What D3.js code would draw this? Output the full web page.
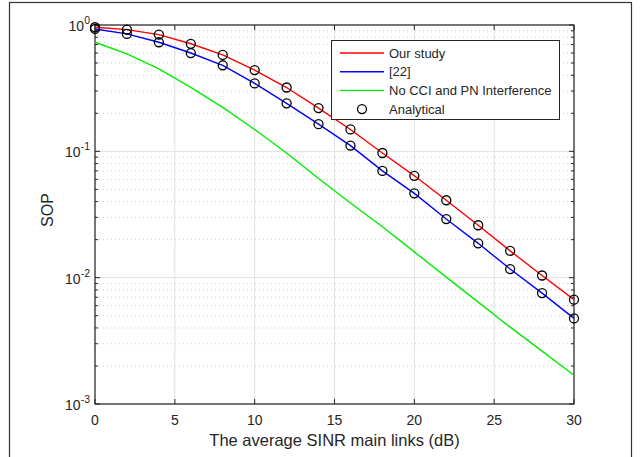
<!DOCTYPE html>
<html>
<head>
<meta charset="utf-8">
<script src="https://cdn.jsdelivr.net/npm/d3@7"></script>
<style>
  body { margin: 0; background: #fff; }
  text { font-family: "Liberation Sans", Arial, sans-serif; fill: #262626; }
</style>
</head>
<body>
<svg id="chart" width="642" height="457"></svg>
<script>
// donnees
let snr = [0, 2, 4, 6, 8, 10, 12, 14, 16, 18, 20, 22, 24, 26, 28, 30];
let sopOurStudy = [0.96, 0.92, 0.84, 0.71, 0.58, 0.44, 0.32, 0.22, 0.149, 0.097, 0.064, 0.041, 0.026, 0.0163, 0.0104, 0.0067];
let sopRef22 = [0.93, 0.85, 0.73, 0.60, 0.48, 0.345, 0.24, 0.164, 0.111, 0.070, 0.0465, 0.0291, 0.0187, 0.0117, 0.00755, 0.00476];
let sopNoCCI = [0.73, 0.59, 0.45, 0.321, 0.223, 0.149, 0.097, 0.061, 0.039, 0.0253, 0.016, 0.0101, 0.0064, 0.00406, 0.00262, 0.00169];
let xTicks = [0, 5, 10, 15, 20, 25, 30];
let yDecades = [-3, -2, -1, 0];
let legendLabels = ["Our study", "[22]", "No CCI and PN Interference", "Analytical"];

let svg = d3.select("#chart");

// cadre exterieur
svg.append("rect")
  .attr("x", 9.5).attr("y", 2.5)
  .attr("width", 622).attr("height", 470)
  .attr("fill", "none").attr("stroke", "#333").attr("stroke-width", 1.2);

let margin = {left: 95, top: 25, right: 574, bottom: 404};

let x = d3.scaleLinear().domain([0, 30]).range([margin.left, margin.right]);
let y = d3.scaleLog().domain([1e-3, 1]).range([margin.bottom, margin.top]);

// grille mineure (pointilles)
let minors = [];
yDecades.slice(0, 3).forEach(function(e) {
  for (let k = 2; k <= 9; k++) minors.push(k * Math.pow(10, e));
});

let grid = svg.append("g");
grid.selectAll(".minor")
  .data(minors)
  .enter().append("line")
    .attr("x1", margin.left).attr("x2", margin.right)
    .attr("y1", function(d) { return y(d); })
    .attr("y2", function(d) { return y(d); })
    .attr("stroke", "#c0c0c0").attr("stroke-width", 0.8)
    .attr("stroke-dasharray", "1,3");

grid.selectAll(".majy")
  .data(yDecades)
  .enter().append("line")
    .attr("x1", margin.left).attr("x2", margin.right)
    .attr("y1", function(d) { return y(Math.pow(10, d)); })
    .attr("y2", function(d) { return y(Math.pow(10, d)); })
    .attr("stroke", "#e0e0e0").attr("stroke-width", 1);

grid.selectAll(".majx")
  .data(xTicks)
  .enter().append("line")
    .attr("x1", function(d) { return x(d); })
    .attr("x2", function(d) { return x(d); })
    .attr("y1", margin.top).attr("y2", margin.bottom)
    .attr("stroke", "#e0e0e0").attr("stroke-width", 1);

// boite des axes
svg.append("rect")
  .attr("x", margin.left).attr("y", margin.top)
  .attr("width", margin.right - margin.left)
  .attr("height", margin.bottom - margin.top)
  .attr("fill", "none").attr("stroke", "#262626").attr("stroke-width", 1.2);

// graduations vers l'interieur
let ticks = svg.append("g").attr("stroke", "#262626").attr("stroke-width", 1);
xTicks.forEach(function(t) {
  ticks.append("line").attr("x1", x(t)).attr("x2", x(t)).attr("y1", margin.bottom).attr("y2", margin.bottom - 5);
  ticks.append("line").attr("x1", x(t)).attr("x2", x(t)).attr("y1", margin.top).attr("y2", margin.top + 5);
});
yDecades.forEach(function(e) {
  let yy = y(Math.pow(10, e));
  ticks.append("line").attr("x1", margin.left).attr("x2", margin.left + 5).attr("y1", yy).attr("y2", yy);
  ticks.append("line").attr("x1", margin.right).attr("x2", margin.right - 5).attr("y1", yy).attr("y2", yy);
});
minors.forEach(function(m) {
  let yy = y(m);
  ticks.append("line").attr("x1", margin.left).attr("x2", margin.left + 3).attr("y1", yy).attr("y2", yy);
  ticks.append("line").attr("x1", margin.right).attr("x2", margin.right - 3).attr("y1", yy).attr("y2", yy);
});

// etiquettes x
svg.selectAll(".xlab")
  .data(xTicks)
  .enter().append("text")
    .attr("x", function(d) { return x(d); })
    .attr("y", 425)
    .attr("text-anchor", "middle")
    .attr("font-size", 14)
    .text(function(d) { return d; });

// etiquettes y (10^n)
yDecades.forEach(function(e) {
  let t = svg.append("text")
    .attr("x", margin.left - 5)
    .attr("y", y(Math.pow(10, e)) + 6)
    .attr("text-anchor", "end")
    .attr("font-size", 14);
  t.append("tspan").text("10");
  t.append("tspan").attr("dy", -7).attr("font-size", 10.5).text(e);
});

svg.append("text")
  .attr("x", (margin.left + margin.right) / 2)
  .attr("y", 446)
  .attr("text-anchor", "middle")
  .attr("font-size", 16.5)
  .text("The average SINR main links (dB)");

svg.append("text")
  .attr("transform", "translate(53,210) rotate(-90)")
  .attr("text-anchor", "middle")
  .attr("font-size", 16)
  .text("SOP");

// courbes
let series = [
  {vals: sopNoCCI, color: "#00ee00"},
  {vals: sopRef22, color: "#0000ff"},
  {vals: sopOurStudy, color: "#ff0000"}
];
let line = d3.line()
  .x(function(d) { return x(d[0]); })
  .y(function(d) { return y(d[1]); });

series.forEach(function(s) {
  svg.append("path")
    .datum(snr.map(function(v, i) { return [v, s.vals[i]]; }))
    .attr("d", line)
    .attr("fill", "none")
    .attr("stroke", s.color)
    .attr("stroke-width", 1.4);
});

// marqueurs analytiques
[sopOurStudy, sopRef22].forEach(function(vals) {
  svg.append("g").selectAll("circle")
    .data(snr.map(function(v, i) { return [v, vals[i]]; }))
    .enter().append("circle")
      .attr("cx", function(d) { return x(d[0]); })
      .attr("cy", function(d) { return y(d[1]); })
      .attr("r", 4.5)
      .attr("fill", "none")
      .attr("stroke", "#000")
      .attr("stroke-width", 1.3);
});

// legende
let leg = svg.append("g");
leg.append("rect")
  .attr("x", 331.5).attr("y", 40.5)
  .attr("width", 228).attr("height", 79)
  .attr("fill", "#fff").attr("stroke", "#262626").attr("stroke-width", 1);

let legColors = ["#ff0000", "#0000ff", "#00ee00", null];
legendLabels.forEach(function(lab, i) {
  let yy = 53 + i * 18.7;
  if (legColors[i]) {
    leg.append("line")
      .attr("x1", 340).attr("x2", 384)
      .attr("y1", yy).attr("y2", yy)
      .attr("stroke", legColors[i]).attr("stroke-width", 1.4);
  } else {
    leg.append("circle")
      .attr("cx", 362).attr("cy", yy).attr("r", 4.5)
      .attr("fill", "none").attr("stroke", "#000").attr("stroke-width", 1.3);
  }
  leg.append("text")
    .attr("x", 389).attr("y", yy + 4.5)
    .attr("font-size", 13)
    .text(lab);
});
</script>
</body>
</html>
